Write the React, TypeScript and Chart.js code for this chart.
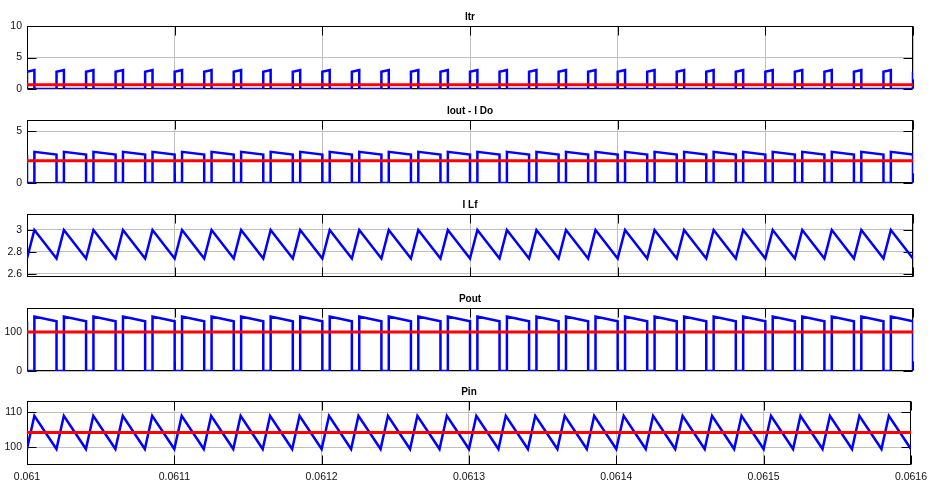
import React, { useEffect, useRef } from "react";
import { Chart, registerables } from "chart.js";
Chart.register(...registerables);

// ---------- data ----------
const xMin = 0.061;
const xMax = 0.0616;
const xTicks = [0.061, 0.0611, 0.0612, 0.0613, 0.0614, 0.0615, 0.0616];

// transistor turn-on instants (start of every switching period), last one at the right edge
const tOn = [
  0.061, 0.06102, 0.06104, 0.06106, 0.06108, 0.0611, 0.06112, 0.06114, 0.06116, 0.06118,
  0.0612, 0.06122, 0.06124, 0.06126, 0.06128, 0.0613, 0.06132, 0.06134, 0.06136, 0.06138,
  0.0614, 0.06142, 0.06144, 0.06146, 0.06148, 0.0615, 0.06152, 0.06154, 0.06156, 0.06158,
  0.0616,
];
// transistor turn-off instants
const tOff = [
  0.061005, 0.061025, 0.061045, 0.061065, 0.061085, 0.061105, 0.061125, 0.061145, 0.061165, 0.061185,
  0.061205, 0.061225, 0.061245, 0.061265, 0.061285, 0.061305, 0.061325, 0.061345, 0.061365, 0.061385,
  0.061405, 0.061425, 0.061445, 0.061465, 0.061485, 0.061505, 0.061525, 0.061545, 0.061565, 0.061585,
];

// levels
const itrLevels = [2.74, 3.0]; // at turn-on, at turn-off
const itrMean = 0.68;
const ioutLevels = [3.0, 2.74]; // at turn-off, at next turn-on
const ioutMean = 2.14;
const ilfLevels = [2.74, 3.0]; // valley, peak
const poutLevels = [139.5, 127.5]; // at turn-off, at next turn-on
const poutMean = 100;
const pinLevels = [99.5, 109]; // valley, peak
const pinMean = 104.2;

const titles = ["Itr", "Iout - I Do", "I Lf", "Pout", "Pin"];
const yTicksItr = [0, 5, 10];
const yTicksIout = [0, 5];
const yTicksIlf = [2.6, 2.8, 3];
const yTicksPout = [0, 100];
const yTicksPin = [100, 110];

// ---------- series tables ----------
type P = { x: number; y: number };
function onPulse(lv: number[]): P[] {
  const pts: P[] = [];
  for (let k = 0; k < tOff.length; k++) {
    pts.push({ x: tOn[k], y: 0 }, { x: tOn[k], y: lv[0] }, { x: tOff[k], y: lv[1] }, { x: tOff[k], y: 0 });
  }
  const last = tOn[tOn.length - 1];
  pts.push({ x: last, y: 0 }, { x: last, y: lv[0] });
  return pts;
}
function offPulse(lv: number[]): P[] {
  const pts: P[] = [{ x: tOn[0], y: lv[1] }, { x: tOn[0], y: 0 }];
  for (let k = 0; k < tOff.length; k++) {
    pts.push({ x: tOff[k], y: 0 }, { x: tOff[k], y: lv[0] }, { x: tOn[k + 1], y: lv[1] }, { x: tOn[k + 1], y: 0 });
  }
  return pts;
}
function triangle(lv: number[]): P[] {
  const pts: P[] = [];
  for (let k = 0; k < tOff.length; k++) {
    pts.push({ x: tOn[k], y: lv[0] }, { x: tOff[k], y: lv[1] });
  }
  pts.push({ x: tOn[tOn.length - 1], y: lv[0] });
  return pts;
}
const flat = (m: number): P[] => [{ x: xMin, y: m }, { x: xMax, y: m }];

const FONT = "'Liberation Sans', Arial, Helvetica, sans-serif";

const panels = [
  { title: titles[0], top: 26, h: 63, yMin: 0, yMax: 10, yTicks: yTicksItr, blue: onPulse(itrLevels), red: flat(itrMean) },
  { title: titles[1], top: 120, h: 63, yMin: 0, yMax: 6.06, yTicks: yTicksIout, blue: offPulse(ioutLevels), red: flat(ioutMean) },
  { title: titles[2], top: 214, h: 63, yMin: 2.572, yMax: 3.145, yTicks: yTicksIlf, blue: triangle(ilfLevels), red: null },
  { title: titles[3], top: 308, h: 63, yMin: 0, yMax: 161.5, yTicks: yTicksPout, blue: offPulse(poutLevels), red: flat(poutMean) },
  { title: titles[4], top: 401, h: 64, yMin: 94.94, yMax: 113.23, yTicks: yTicksPin, blue: triangle(pinLevels), red: flat(pinMean) },
];

const TOP_AREA = 26;
const BOTTOM_PAD = 13;
const LAST_BOTTOM = 27;
const LEFT = 27;
const RIGHT_PAD = 20;
const W = 933;

const boxPlugin = {
  id: "matlabBox",
  beforeDatasetsDraw(chart: any) {
    const { ctx, chartArea: a, scales } = chart;
    const L = Math.round(a.left) + 0.5;
    const R = Math.round(a.right) - 0.5;
    const T = Math.round(a.top) + 0.5;
    const B = Math.round(a.bottom) - 0.5;
    const len = 9;
    ctx.save();
    ctx.strokeStyle = "#000";
    ctx.lineWidth = 1;
    ctx.beginPath();
    for (const t of scales.x.ticks) {
      const px = Math.round(scales.x.getPixelForValue(t.value)) + 0.5;
      ctx.moveTo(px, T);
      ctx.lineTo(px, T + len);
      ctx.moveTo(px, B);
      ctx.lineTo(px, B - len);
    }
    for (const t of scales.y.ticks) {
      const py = Math.round(scales.y.getPixelForValue(t.value)) + 0.5;
      ctx.moveTo(L, py);
      ctx.lineTo(L + len, py);
      ctx.moveTo(R, py);
      ctx.lineTo(R - len, py);
    }
    ctx.stroke();
    ctx.strokeRect(L, T, R - L, B - T);
    ctx.restore();
  },
};

export default function App() {
  const refs = useRef<(HTMLCanvasElement | null)[]>([]);

  useEffect(() => {
    const charts: Chart[] = [];
    panels.forEach((p, i) => {
      const canvas = refs.current[i];
      if (!canvas) return;
      const isLast = i === panels.length - 1;
      const datasets: any[] = [];
      if (p.red) {
        datasets.push({ data: p.red, borderColor: "#ff0000", borderWidth: 3, pointRadius: 0, tension: 0, order: 0 });
      }
      datasets.push({ data: p.blue, borderColor: "#0000ff", borderWidth: 2.5, pointRadius: 0, tension: 0, order: 1 });
      const chart = new Chart(canvas, {
        type: "line",
        data: { datasets },
        options: {
          responsive: false,
          animation: false,
          events: [],
          layout: { padding: { left: 0, right: RIGHT_PAD, top: 0, bottom: isLast ? 0 : BOTTOM_PAD } },
          plugins: {
            legend: { display: false },
            tooltip: { enabled: false },
            title: {
              display: true,
              text: p.title,
              color: "#000",
              fullSize: false,
              font: { family: FONT, size: 10, weight: "bold", lineHeight: 1.2 },
              padding: { top: 11, bottom: 3 },
            },
          },
          scales: {
            x: {
              type: "linear",
              min: xMin,
              max: xMax,
              afterBuildTicks: (s: any) => {
                s.ticks = xTicks.map((v) => ({ value: v }));
              },
              afterFit: (s: any) => {
                s.height = isLast ? LAST_BOTTOM : 0;
              },
              grid: { color: "#c0c0c0", lineWidth: 1, drawTicks: false },
              border: { display: false },
              ticks: {
                display: isLast,
                autoSkip: false,
                maxRotation: 0,
                padding: 6,
                color: "#111",
                font: { family: FONT, size: 10.5 },
                callback: (v: any) => Number(v).toFixed(4).replace(/0+$/, ""),
              },
            },
            y: {
              type: "linear",
              min: p.yMin,
              max: p.yMax,
              afterBuildTicks: (s: any) => {
                s.ticks = p.yTicks.map((v) => ({ value: v }));
              },
              afterFit: (s: any) => {
                s.width = LEFT;
              },
              grid: { color: "#c0c0c0", lineWidth: 1, drawTicks: false },
              border: { display: false },
              ticks: {
                padding: 5,
                color: "#111",
                font: { family: FONT, size: 10.5 },
                callback: (v: any) => String(v),
              },
            },
          },
        } as any,
        plugins: [boxPlugin],
      });
      charts.push(chart);
    });
    return () => charts.forEach((c) => c.destroy());
  }, []);

  return (
    <div style={{ position: "absolute", left: 0, top: 0, width: W, height: 492, background: "#fff", overflow: "hidden" }}>
      {panels.map((p, i) => {
        const isLast = i === panels.length - 1;
        const h = TOP_AREA + p.h + (isLast ? LAST_BOTTOM : BOTTOM_PAD);
        return (
          <canvas
            key={i}
            ref={(el) => {
              refs.current[i] = el;
            }}
            width={W}
            height={h}
            style={{ position: "absolute", left: 0, top: p.top - TOP_AREA, width: W, height: h, display: "block" }}
          />
        );
      })}
    </div>
  );
}
